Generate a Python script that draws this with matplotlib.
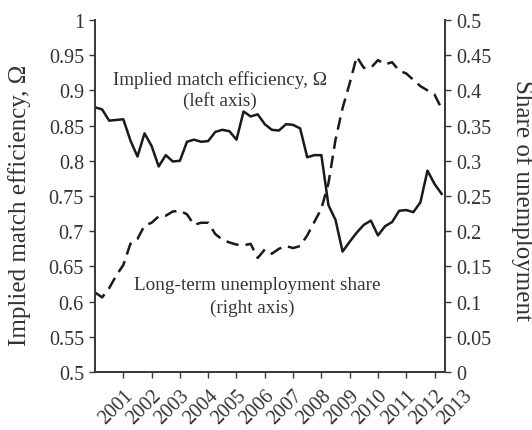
import numpy as np
import matplotlib
matplotlib.use("Agg")
import matplotlib.pyplot as plt
import matplotlib.transforms as mtransforms
from matplotlib.ticker import FormatStrFormatter

plt.rcParams['font.family'] = ['Liberation Serif', 'DejaVu Serif']

# quarterly series, 2000Q1 - 2012Q2
quarters = 2000 + 0.25 * np.arange(50)

match_eff = [0.876, 0.873, 0.857, 0.858, 0.859, 0.829, 0.806, 0.839, 0.821, 0.792,
             0.808, 0.799, 0.800, 0.827, 0.830, 0.827, 0.828, 0.841, 0.844, 0.842,
             0.830, 0.870, 0.863, 0.866, 0.852, 0.844, 0.843, 0.852, 0.851, 0.846,
             0.805, 0.808, 0.808, 0.737, 0.716, 0.671, 0.685, 0.698, 0.709, 0.715,
             0.694, 0.707, 0.713, 0.729, 0.730, 0.727, 0.741, 0.786, 0.767, 0.753]

lt_share = [0.113, 0.106, 0.119, 0.137, 0.152, 0.182, 0.189, 0.208, 0.212, 0.221,
            0.222, 0.228, 0.229, 0.224, 0.209, 0.212, 0.212, 0.196, 0.188, 0.184,
            0.181, 0.180, 0.182, 0.162, 0.174, 0.168, 0.175, 0.179, 0.176, 0.179,
            0.194, 0.213, 0.232, 0.268, 0.330, 0.375, 0.410, 0.448, 0.432, 0.432,
            0.443, 0.437, 0.440, 0.428, 0.424, 0.415, 0.406, 0.400, 0.394, 0.374]

years = list(range(2001, 2014))
ink = '#1a1a1a'
txt = '#333333'
fs_tick = 14.5
xpad = 6

fig = plt.figure(figsize=(5.32, 4.31), dpi=100)
ax = fig.add_axes([0.1786, 0.1346, 0.6579, 0.8167])
ax2 = ax.twinx()

ax.plot(quarters, match_eff, color=ink, lw=1.8)
ax2.plot(quarters, lt_share, color=ink, lw=1.8, dashes=(5, 2.8))

ax.set_xlim(2000.0, 2012.37)
ax.set_ylim(0.5, 1.0)
ax2.set_ylim(0, 0.5)
ax.set_yticks(np.arange(0.5, 1.0001, 0.05))
ax2.set_yticks(np.arange(0, 0.5001, 0.05))
ax.yaxis.set_major_formatter(FormatStrFormatter('%g'))
ax2.yaxis.set_major_formatter(FormatStrFormatter('%g'))

# 2013 falls past the right edge, so only 2001-2012 get tick marks
ax.set_xticks(years[:-1])
ax.set_xticklabels([str(y) for y in years[:-1]], rotation=45, ha='right',
                   rotation_mode='anchor', fontsize=fs_tick, color=txt)

for a in (ax, ax2):
    a.spines['top'].set_visible(False)
    for s in a.spines.values():
        s.set_color('#3a3a3a')
        s.set_linewidth(1.3)
    a.tick_params(direction='out', length=4, width=1.0, color='#3a3a3a',
                  labelsize=fs_tick, labelcolor=txt, pad=4)
ax.tick_params(axis='x', pad=xpad)

off = mtransforms.ScaledTranslation(0, -(4 + xpad) / 72, fig.dpi_scale_trans)
ax.text(years[-1], 0, str(years[-1]), transform=ax.get_xaxis_transform() + off,
        rotation=45, ha='right', va='top', rotation_mode='anchor',
        fontsize=fs_tick, color=txt, clip_on=False)

fig.text(20 / 532, 0.523, 'Implied match efficiency, Ω', rotation=90,
         ha='center', va='center', fontsize=18, color=txt)
fig.text(522 / 532, 0.535, 'Share of unemployment', rotation=270,
         ha='center', va='center', fontsize=18, color=txt)

ax.text(2004.43, 0.916, 'Implied match efficiency, Ω', ha='center', va='center',
        fontsize=13.8, color=txt)
ax.text(2004.40, 0.886, '(left axis)', ha='center', va='center',
        fontsize=13.8, color=txt)
ax.text(2005.75, 0.624, 'Long-term unemployment share', ha='center', va='center',
        fontsize=13.8, color=txt)
ax.text(2005.56, 0.592, '(right axis)', ha='center', va='center',
        fontsize=13.8, color=txt)

fig.savefig('out.png', dpi=100)
